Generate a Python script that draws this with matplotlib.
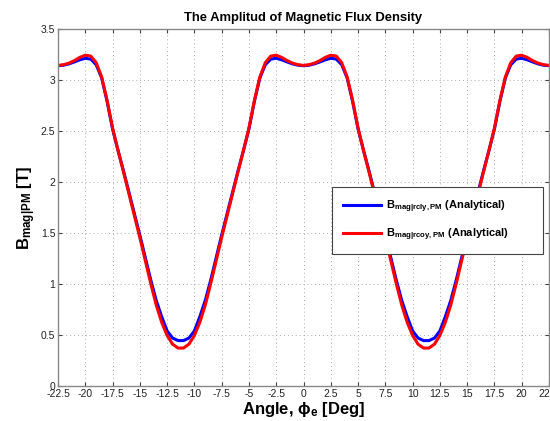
import matplotlib

matplotlib.use("Agg")
import matplotlib.pyplot as plt
import numpy as np

plt.rcParams["font.family"] = ["Liberation Sans", "DejaVu Sans"]
plt.rcParams["mathtext.fontset"] = "custom"
plt.rcParams["mathtext.rm"] = "Liberation Sans"
plt.rcParams["mathtext.bf"] = "Liberation Sans:bold"
plt.rcParams["mathtext.it"] = "Liberation Sans:italic"

# electrical angle [deg]
angle = np.arange(-22.5, 22.51, 0.5)

# B_mag at rcly (blue)
b_rcly = [
    3.140, 3.145, 3.158, 3.177, 3.198, 3.213, 3.205, 3.150, 3.020, 2.790,
    2.520, 2.310, 2.110, 1.900, 1.690, 1.480, 1.260, 1.040, 0.840, 0.680,
    0.540, 0.470, 0.445,
    0.445, 0.470, 0.540, 0.680, 0.840, 1.040, 1.260, 1.480, 1.690, 1.900,
    2.110, 2.310, 2.520, 2.790, 3.020, 3.150, 3.205, 3.213, 3.198, 3.177,
    3.158, 3.145, 3.140,
    3.145, 3.158, 3.177, 3.198, 3.213, 3.205, 3.150, 3.020, 2.790, 2.520,
    2.310, 2.110, 1.900, 1.690, 1.480, 1.260, 1.040, 0.840, 0.680, 0.540,
    0.470, 0.445,
    0.445, 0.470, 0.540, 0.680, 0.840, 1.040, 1.260, 1.480, 1.690, 1.900,
    2.110, 2.310, 2.520, 2.790, 3.020, 3.150, 3.205, 3.213, 3.198, 3.177,
    3.158, 3.145, 3.140,
]

# B_mag at rcoy (red)
b_rcoy = [
    3.143, 3.150, 3.165, 3.190, 3.222, 3.243, 3.235, 3.170, 3.030, 2.800,
    2.530, 2.310, 2.100, 1.885, 1.670, 1.455, 1.230, 1.005, 0.795, 0.625,
    0.495, 0.410, 0.372,
    0.372, 0.410, 0.495, 0.625, 0.795, 1.005, 1.230, 1.455, 1.670, 1.885,
    2.100, 2.310, 2.530, 2.800, 3.030, 3.170, 3.235, 3.243, 3.222, 3.190,
    3.165, 3.150, 3.143,
    3.150, 3.165, 3.190, 3.222, 3.243, 3.235, 3.170, 3.030, 2.800, 2.530,
    2.310, 2.100, 1.885, 1.670, 1.455, 1.230, 1.005, 0.795, 0.625, 0.495,
    0.410, 0.372,
    0.372, 0.410, 0.495, 0.625, 0.795, 1.005, 1.230, 1.455, 1.670, 1.885,
    2.100, 2.310, 2.530, 2.800, 3.030, 3.170, 3.235, 3.243, 3.222, 3.190,
    3.165, 3.150, 3.143,
]

x_ticks = np.arange(-22.5, 22.51, 2.5)
y_ticks = np.arange(0, 3.51, 0.5)

label_rcly = r"$\mathbf{B}_{\mathbf{mag|rcly,PM}}$ (Analytical)"
label_rcoy = r"$\mathbf{B}_{\mathbf{mag|rcoy,PM}}$ (Analytical)"

fig = plt.figure(figsize=(5.5, 4.21), dpi=100)
ax = fig.add_axes([58 / 550, 1 - 386 / 421, 491 / 550, 357 / 421])

ax.plot(angle, b_rcly, color="#0000ff", linewidth=2.2, label=label_rcly)
ax.plot(angle, b_rcoy, color="#ff0000", linewidth=2.2, label=label_rcoy)

ax.set_xlim(-22.5, 22.5)
ax.set_ylim(0, 3.5)
ax.set_xticks(x_ticks)
ax.set_xticklabels([f"{v:g}" for v in x_ticks])
ax.set_yticks(y_ticks)
ax.set_yticklabels([f"{v:g}" for v in y_ticks])
ax.tick_params(direction="in", top=True, right=True, labelsize=7.5,
               length=3, color="#444444", labelcolor="#222222", pad=2)
for spine in ax.spines.values():
    spine.set_color("#888888")
    spine.set_linewidth(1.0)

ax.grid(True, linestyle=(0, (1, 3)), color="#aaaaaa", linewidth=0.7)

ax.set_title("The Amplitud of Magnetic Flux Density", fontsize=9.4,
             fontweight="bold", pad=6)
ax.set_xlabel(r"Angle, $\mathbf{\phi_e}$ [Deg]", fontsize=12,
              fontweight="bold", labelpad=1)
ax.set_ylabel(r"$\mathbf{B}_{\mathbf{mag|PM}}$ [T]", fontsize=12,
              fontweight="bold", labelpad=2)

# legend box stretched to the reference width
leg_w = (543 - 332) / 491
leg_h = (251 - 187) / 357
leg_top = (386 - 187) / 357
leg = ax.legend(loc="upper left",
                bbox_to_anchor=((332 - 58) / 491, leg_top - leg_h, leg_w, leg_h),
                mode="expand", prop={"weight": "bold", "size": 8},
                fancybox=False, edgecolor="#444444", framealpha=1,
                handlelength=3.4, handletextpad=0.5, borderpad=1.0,
                labelspacing=1.1, borderaxespad=0)
leg.get_frame().set_linewidth(0.8)

fig.savefig("out.png", dpi=100)
